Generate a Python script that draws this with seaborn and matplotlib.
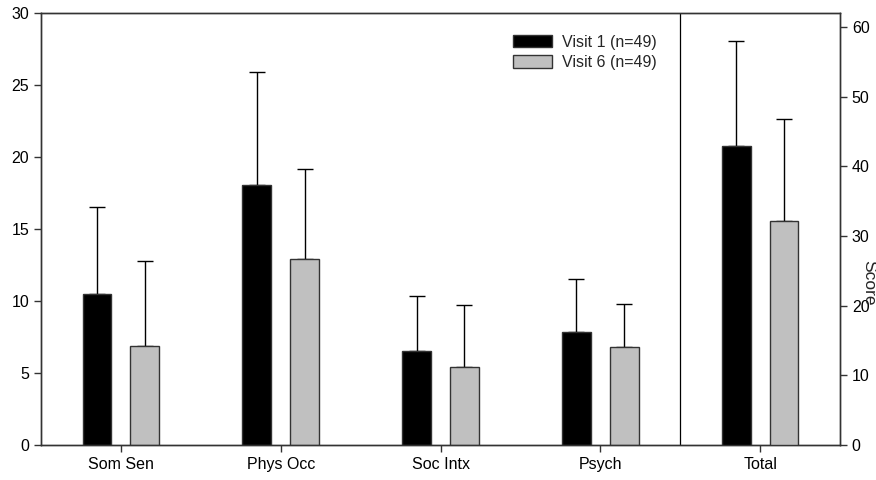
import matplotlib
matplotlib.use("Agg")
import matplotlib.pyplot as plt
import seaborn as sns
import pandas as pd
import numpy as np

categories = ["Som Sen", "Phys Occ", "Soc Intx", "Psych", "Total"]
visits = ["Visit 1 (n=49)", "Visit 6 (n=49)"]
visit1_mean = [10.5, 18.05, 6.5, 7.85, 42.9]
visit1_sd = [6.05, 7.85, 3.87, 3.68, 15.1]
visit6_mean = [6.9, 12.95, 5.4, 6.8, 32.1]
visit6_sd = [5.9, 6.25, 4.3, 3.0, 14.7]

sns.set_style("ticks")
plt.rcParams['font.family'] = ['Liberation Sans', 'DejaVu Sans']
plt.rcParams['font.size'] = 11.5

rows = []
for v, means, sds in [(visits[0], visit1_mean, visit1_sd), (visits[1], visit6_mean, visit6_sd)]:
    for c, m, s in zip(categories, means, sds):
        rows.append({"cat": c, "visit": v, "mean": m, "sd": s})
df = pd.DataFrame(rows)
sub_df = df[df["cat"] != "Total"]
tot_df = df[df["cat"] == "Total"]

palette = {visits[0]: "black", visits[1]: "#c0c0c0"}
edge = "#333333"

fig = plt.figure(figsize=(8.76, 4.8), dpi=100)
ax = fig.add_axes([41 / 876, 35 / 480, 799 / 876, 432 / 480])
ax2 = ax.twinx()


def draw(axis, data, legend):
    sns.barplot(data=data, x="cat", y="mean", hue="visit", order=categories,
                hue_order=visits, palette=palette, errorbar=None, width=0.6,
                gap=0.4, edgecolor=edge, linewidth=1, ax=axis, legend=legend,
                zorder=3)
    # upper error bars only, matched to each bar by its category slot
    for bars, v in zip(axis.containers, visits):
        d = data[data["visit"] == v].set_index("cat")
        xs, ms, ss = [], [], []
        for patch in bars:
            xc = patch.get_x() + patch.get_width() / 2
            cat = categories[int(round(xc))]
            if cat in d.index:
                xs.append(xc)
                ms.append(d.loc[cat, "mean"])
                ss.append(d.loc[cat, "sd"])
        axis.errorbar(xs, ms, yerr=[np.zeros(len(ss)), ss], fmt="none",
                      ecolor="black", elinewidth=1, capsize=6, capthick=1,
                      zorder=2)


draw(ax, sub_df, True)
draw(ax2, tot_df, False)

ax.set_ylim(0, 30)
ax.set_yticks(range(0, 31, 5))
ax2.set_ylim(0, 62)
ax2.set_yticks(range(0, 61, 10))
ax.set_xlim(-0.5, 4.5)
ax2.set_xlim(-0.5, 4.5)
ax.axvline(3.5, color="black", lw=0.9)

ax.set_xlabel("")
ax.set_ylabel("")
ax2.set_xlabel("")
ax2.set_ylabel("Score", rotation=270, fontsize=12.5, va="center")
ax2.yaxis.set_label_coords(1.036, 0.375)

for a in (ax, ax2):
    for s in a.spines.values():
        s.set_visible(True)
        s.set_color(edge)
        s.set_linewidth(1)
    a.tick_params(length=5, width=1, color=edge, labelsize=11.5, labelcolor="black")

ax.legend(loc="upper left", bbox_to_anchor=(0.583, 0.965), frameon=False,
          fontsize=11.5, handlelength=2.45, handleheight=0.8, borderaxespad=0,
          handletextpad=0.6, labelspacing=0.35)

fig.savefig("out.png", dpi=100)
